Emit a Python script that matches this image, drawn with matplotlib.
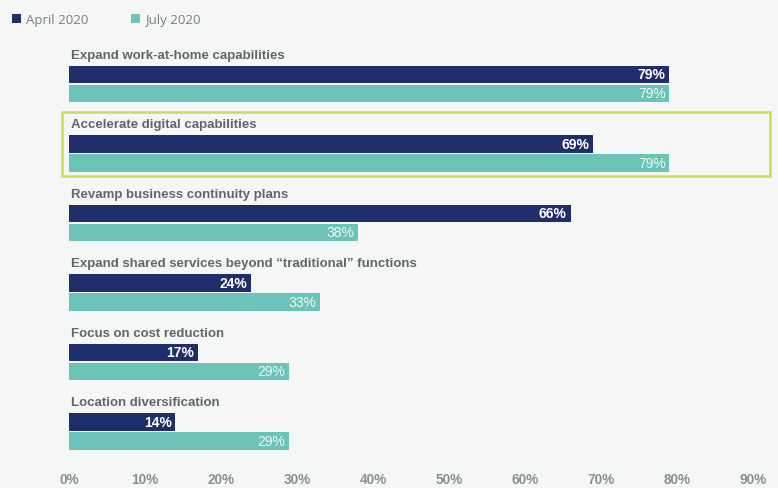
import matplotlib.pyplot as plt
from matplotlib.patches import Rectangle

plt.rcParams['font.family'] = ['Liberation Sans', 'DejaVu Sans']

categories = ['Expand work-at-home capabilities',
              'Accelerate digital capabilities',
              'Revamp business continuity plans',
              'Expand shared services beyond \u201ctraditional\u201d functions',
              'Focus on cost reduction',
              'Location diversification']
april = [79, 69, 66, 24, 17, 14]
july = [79, 79, 38, 33, 29, 29]
ticks = [0, 10, 20, 30, 40, 50, 60, 70, 80, 90]

DARK = '#1f2d6b'
TEAL = '#6cc3b8'
GREY = '#62666a'
BG = '#f5f6f6'

W, H = 778, 489
fig = plt.figure(figsize=(W / 100, H / 100), dpi=100, facecolor=BG)
# axes placed in pixel terms, y axis in pixels too
ax = fig.add_axes([69 / W, 1 - 462 / H, 709 / W, 422 / H], facecolor=BG)
ax.set_xlim(0, 709 / 7.6)
ax.set_ylim(462, 40)

step = 69.5
h = 17.5
for i, cat in enumerate(categories):
    y0 = 56 + step * i
    ax.text(0.2, y0, cat, ha='left', va='center', fontsize=9.5, fontweight='bold', color=GREY)
    ax.barh(y0 + 19.5, april[i], height=h, color=DARK, label='April 2020' if i == 0 else None)
    ax.barh(y0 + 38.5, july[i], height=h, color=TEAL, label='July 2020' if i == 0 else None)
    ax.text(april[i] - 0.5, y0 + 19.5, f'{april[i]}%', ha='right', va='center',
            fontsize=10, fontweight='bold', color='white')
    ax.text(july[i] - 0.5, y0 + 38.5, f'{july[i]}%', ha='right', va='center',
            fontsize=10, color='#eef8f6')

# highlight box around the second group
ax.add_patch(Rectangle((-0.92, 113), 93.1, 64, fill=False, edgecolor='#cddc5a',
                       linewidth=1.8, clip_on=False))

ax.set_xticks(ticks)
ax.set_xticklabels([f'{t}%' for t in ticks], fontsize=9.8, fontweight='bold', color='#8c8f92')
ax.tick_params(axis='x', length=0, pad=8)
ax.set_yticks([])
for s in ax.spines.values():
    s.set_visible(False)

fig.legend(loc='upper left', bbox_to_anchor=(0.0, 0.996), ncol=2, frameon=False,
           handlelength=0.7, handleheight=0.7, handletextpad=0.4, columnspacing=3.2,
           prop={'family': 'Open Sans', 'size': 9.5}, labelcolor='#7a7d80')

fig.savefig('out.png', dpi=100, facecolor=BG)
